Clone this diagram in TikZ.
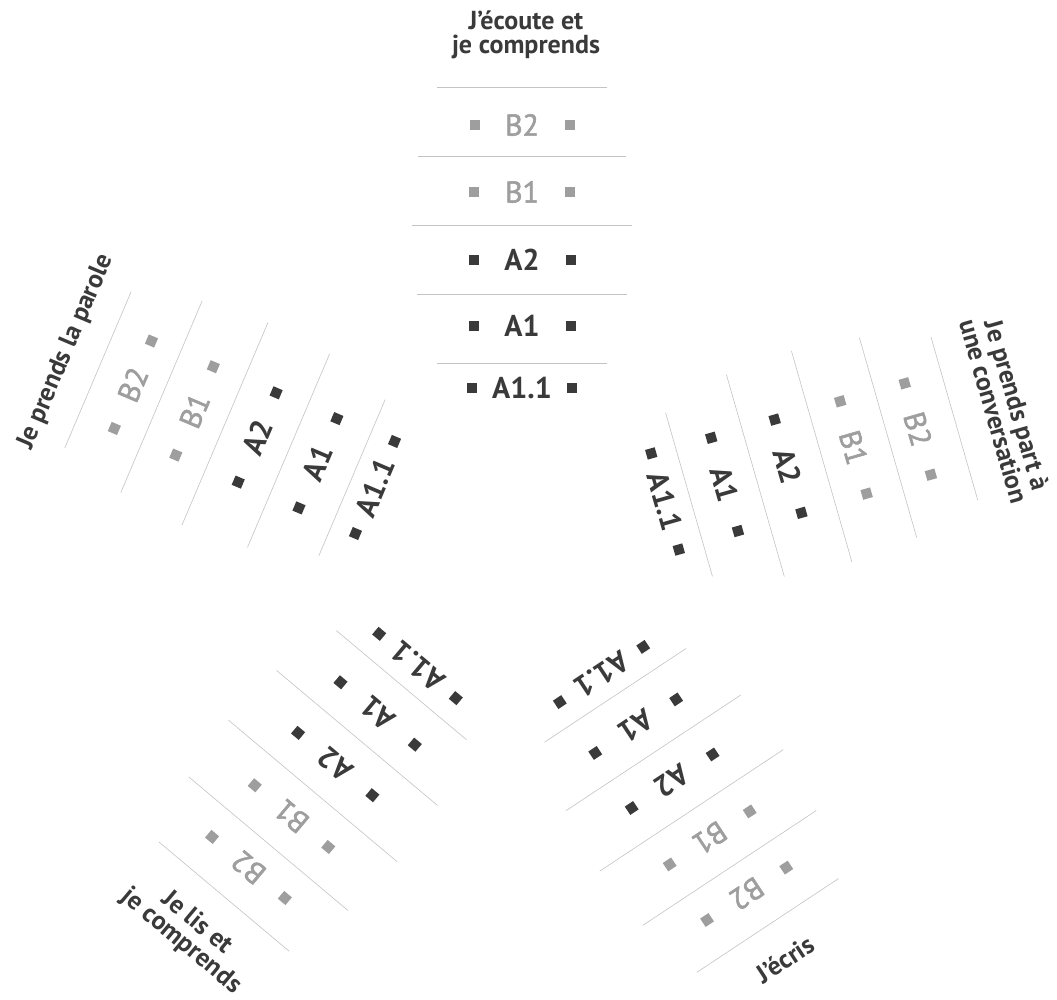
\documentclass[tikz,border=0pt]{standalone}
\usepackage{fontspec}
\setmainfont{PT Sans}
\newfontfamily\midweight[FakeBold=1.7]{PT Sans}
\definecolor{inkA}{HTML}{3A3A3A}
\definecolor{inkB}{HTML}{9E9E9E}
\definecolor{rulec}{HTML}{C4C4C4}
\tikzset{
  lev/.style={font=\fontsize{30}{30}\selectfont, inner sep=0pt},
  bul/.style={minimum size=10pt, inner sep=0pt},
  sep/.style={draw=rulec, line width=0.6pt},
  ttl/.style={font=\fontsize{26}{24}\selectfont\bfseries, text=inkA, align=center, inner sep=0pt},
}
% One skill ladder: #1 name, #2/#3 position of the A1.1 level, #4 rotation,
% #5 extra rotation of the heading, #6 distance of the heading, #7 heading
\newcommand\skillladder[7]{%
  \begin{scope}[shift={(#2,1000-#3)}, rotate=#4, transform shape]
    \draw[sep] (-85,25) -- (85,25);
    \draw[sep] (-105,94) -- (105,94);
    \draw[sep] (-110,163) -- (110,163);
    \draw[sep] (-104,232) -- (104,232);
    \draw[sep] (-85,301) -- (85,301);
    \foreach \lab/\key/\d/\w/\c/\wt in {A1.1/a11/0/50/inkA/\bfseries,
        A1/a1/62/48.5/inkA/\bfseries, A2/a2/128/48.5/inkA/\bfseries,
        B1/b1/196/48/inkB/\midweight, B2/b2/263/47.5/inkB/\midweight} {
      \node[lev, text=\c] (#1-\key) at (0,\d) {\wt\lab};
      \node[bul, fill=\c] (#1-\key-l) at (-\w,\d) {};
      \node[bul, fill=\c] (#1-\key-r) at (\w,\d) {};
    }
    \node[ttl, rotate=#5] (#1-title) at (4,#6) {#7};
  \end{scope}}
\begin{document}
\begin{tikzpicture}[x=1pt, y=1pt]
  \fill[white] (0,0) rectangle (1057,1000);
  \useasboundingbox (0,0) rectangle (1057,1000);
  \skillladder{ecoute}{522}{388}{0}{0}{353}{J'écoute et\\je comprends}
  \skillladder{parole}{375}{487.5}{67}{0}{337}{Je prends la parole}
  \skillladder{conv}{665}{501.5}{-74}{0}{353}{Je prends part à\\une conversation}
  \skillladder{lire}{417.5}{666}{140}{180}{351}{Je lis et\\je comprends}
  \skillladder{ecrire}{601.5}{674.5}{-146.5}{180}{339}{J'écris}
\end{tikzpicture}
\end{document}
